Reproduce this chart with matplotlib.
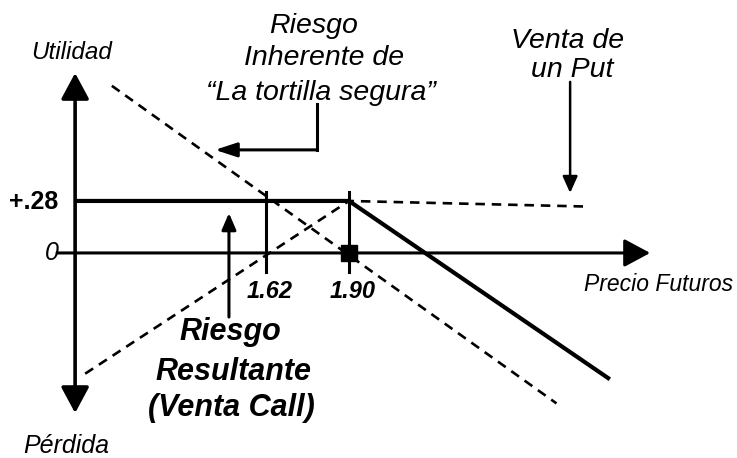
import matplotlib
matplotlib.use('Agg')
import matplotlib.pyplot as plt

plt.rcParams['font.family'] = ['Liberation Sans', 'DejaVu Sans']

# payoff lines (price, profit)
call_x = [0.98, 1.90, 2.78]        # riesgo resultante (venta call)
call_y = [0.28, 0.28, -0.68]
inherent_x = [1.10, 2.60]          # riesgo inherente
inherent_y = [0.90, -0.81]
put_x = [1.01, 1.90, 2.70]         # venta de un put
put_y = [-0.65, 0.28, 0.25]

tick_prices = [1.62, 1.90]
tick_labels = ['1.62', '1.90']
premium = 0.28
strike = 1.90

fig = plt.figure(figsize=(7.37, 4.58), dpi=100)
ax = fig.add_axes([0, 0, 1, 1])
ax.set_xlim(0.7226, 3.209)
ax.set_ylim(-1.104, 1.362)
ax.axis('off')

# axes arrows
ax.annotate('', xy=(2.916, 0), xytext=(0.915, 0),
            arrowprops=dict(arrowstyle='-|>,head_length=0.8,head_width=0.43',
                            mutation_scale=20, lw=2.2, color='black',
                            shrinkA=0, shrinkB=0))
ax.annotate('', xy=(0.976, 0.969), xytext=(0.976, -0.862),
            arrowprops=dict(arrowstyle='<|-|>,head_length=0.8,head_width=0.43',
                            mutation_scale=20, lw=2.6, color='black',
                            shrinkA=0, shrinkB=0))

# payoff lines
ax.plot(call_x, call_y, color='black', lw=3.0, solid_capstyle='butt')
ax.plot(inherent_x, inherent_y, color='black', lw=1.9, ls=(0, (3.6, 2.6)))
ax.plot(put_x, put_y, color='black', lw=1.9, ls=(0, (3.6, 2.6)))

# ticks on price axis
for p, lab in zip(tick_prices, tick_labels):
    ax.plot([p, p], [-0.10, 0.33], color='black', lw=2.2)
    ax.text(p + 0.012, -0.205, lab, ha='center', va='center',
            fontsize=17, fontweight='bold', fontstyle='italic')
ax.plot([strike], [0], marker='s', color='black', ms=11)

# axis labels
ax.text(0.837, premium - 0.005, '+.28', ha='center', va='center',
        fontsize=18, fontweight='bold')
ax.text(0.898, 0, '0', ha='center', va='center', fontsize=18, fontstyle='italic')
ax.text(0.965, 1.044, 'Utilidad', ha='center', va='baseline',
        fontsize=17.5, fontstyle='italic')
ax.text(0.945, -1.077, 'Pérdida', ha='center', va='baseline',
        fontsize=18, fontstyle='italic')
ax.text(2.943, -0.172, 'Precio Futuros', ha='center', va='center',
        fontsize=16.5, fontstyle='italic')

# riesgo inherente
ax.text(1.779, 1.185, 'Riesgo', ha='center', va='baseline', fontsize=20.5, fontstyle='italic')
ax.text(1.816, 1.012, 'Inherente de', ha='center', va='baseline', fontsize=20.5, fontstyle='italic')
ax.text(1.806, 0.824, '“La tortilla segura”', ha='center', va='baseline',
        fontsize=20.5, fontstyle='italic')
ax.plot([1.792, 1.792], [0.80, 0.555], color='black', lw=2.2)
ax.annotate('', xy=(1.448, 0.555), xytext=(1.792, 0.555),
            arrowprops=dict(arrowstyle='-|>,head_length=1.1,head_width=0.36',
                            mutation_scale=12, lw=2.2, color='black',
                            shrinkA=0, shrinkB=0))

# venta de un put
ax.text(2.639, 1.104, 'Venta de', ha='center', va='baseline', fontsize=20.5, fontstyle='italic')
ax.text(2.652, 0.948, 'un Put', ha='center', va='baseline', fontsize=20.5, fontstyle='italic')
ax.annotate('', xy=(2.646, 0.323), xytext=(2.646, 0.921),
            arrowprops=dict(arrowstyle='-|>,head_length=1.0,head_width=0.45',
                            mutation_scale=10, lw=1.8, color='black',
                            shrinkA=0, shrinkB=0))

# riesgo resultante
ax.text(1.499, -0.468, 'Riesgo', ha='center', va='baseline', fontsize=22,
        fontweight='bold', fontstyle='italic')
ax.text(1.509, -0.684, 'Resultante', ha='center', va='baseline', fontsize=22,
        fontweight='bold', fontstyle='italic')
ax.text(1.502, -0.878, '(Venta Call)', ha='center', va='baseline', fontsize=22,
        fontweight='bold', fontstyle='italic')
ax.annotate('', xy=(1.495, 0.215), xytext=(1.495, -0.345),
            arrowprops=dict(arrowstyle='-|>,head_length=1.0,head_width=0.43',
                            mutation_scale=10, lw=2.2, color='black',
                            shrinkA=0, shrinkB=0))

fig.savefig('out.png', dpi=100, facecolor='white')
